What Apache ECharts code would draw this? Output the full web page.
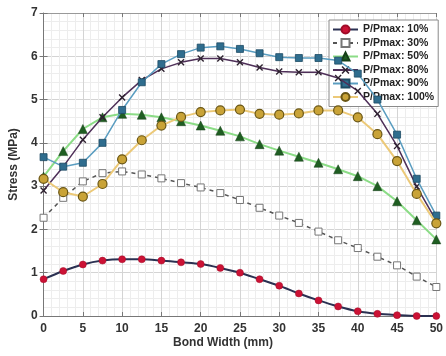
<!DOCTYPE html>
<html>
<head>
<meta charset="utf-8">
<script src="https://cdn.jsdelivr.net/npm/echarts@6/dist/echarts.min.js"></script>
<style>
  html, body { margin: 0; padding: 0; background: #fff; }
  #chart { width: 446px; height: 356px; }
</style>
</head>
<body>
<div id="chart"></div>
<script>
// Bond width positions (mm)
const bondWidth = [0, 2.5, 5, 7.5, 10, 12.5, 15, 17.5, 20, 22.5, 25, 27.5, 30, 32.5, 35, 37.5, 40, 42.5, 45, 47.5, 50];

// Stress (MPa) at each load level
const load10  = [0.85, 1.04, 1.19, 1.28, 1.31, 1.31, 1.28, 1.24, 1.20, 1.11, 1.00, 0.85, 0.70, 0.52, 0.36, 0.22, 0.11, 0.05, 0.02, 0.00, 0.00];
const load30  = [2.27, 2.73, 3.11, 3.30, 3.34, 3.27, 3.18, 3.07, 2.97, 2.84, 2.68, 2.50, 2.32, 2.15, 1.95, 1.75, 1.57, 1.37, 1.17, 0.91, 0.67];
const load50  = [3.22, 3.81, 4.32, 4.59, 4.67, 4.65, 4.59, 4.50, 4.40, 4.28, 4.15, 3.97, 3.82, 3.68, 3.54, 3.39, 3.23, 3.00, 2.65, 2.21, 1.77];
const load80  = [2.90, 3.45, 4.07, 4.59, 5.05, 5.45, 5.71, 5.86, 5.95, 5.95, 5.86, 5.74, 5.65, 5.63, 5.63, 5.50, 5.20, 4.67, 3.93, 2.99, 2.20];
const load90  = [3.67, 3.45, 3.54, 4.00, 4.76, 5.40, 5.82, 6.05, 6.20, 6.23, 6.17, 6.07, 5.98, 5.96, 5.96, 5.90, 5.60, 5.00, 4.19, 3.17, 2.32];
const load100 = [3.17, 2.86, 2.76, 3.05, 3.62, 4.06, 4.40, 4.60, 4.71, 4.75, 4.77, 4.67, 4.65, 4.68, 4.75, 4.75, 4.59, 4.20, 3.58, 2.82, 2.14];

const seriesNames = ['P/Pmax: 10%', 'P/Pmax: 30%', 'P/Pmax: 50%', 'P/Pmax: 80%', 'P/Pmax: 90%', 'P/Pmax: 100%'];

const pairs = vals => bondWidth.map((x, i) => [x, vals[i]]);

// filled "x" marker outline
const crossPath = 'path://M1.4,0 L5,3.6 L8.6,0 L10,1.4 L6.4,5 L10,8.6 L8.6,10 L5,6.4 L1.4,10 L0,8.6 L3.6,5 L0,1.4 Z';

const font = 'Liberation Sans, Arial, sans-serif';
const chart = echarts.init(document.getElementById('chart'), null, { renderer: 'canvas' });

const gridLine = { show: true, lineStyle: { color: '#d4d4d4', width: 1 } };
const minorLine = { show: true, lineStyle: { color: '#ededed', width: 1 } };
const minorTick = { show: true, splitNumber: 5, length: 0 };

chart.setOption({
  animation: false,
  backgroundColor: '#ffffff',
  grid: { left: 37, right: 0, top: 13, bottom: 40, containLabel: false },
  xAxis: [
    {
      type: 'value', min: 0, max: 50, interval: 5,
      axisLine: { show: true, onZero: false, lineStyle: { color: '#777', width: 1 } },
      axisTick: { show: true, inside: true, length: 4, lineStyle: { color: '#777' } },
      axisLabel: { color: '#333', fontSize: 12, fontWeight: 'bold', fontFamily: font, margin: 7 },
      splitLine: gridLine,
      minorTick: minorTick,
      minorSplitLine: minorLine
    },
    {
      type: 'value', min: 0, max: 50, interval: 5, position: 'top',
      axisLine: { show: true, onZero: false, lineStyle: { color: '#999', width: 1 } },
      axisTick: { show: true, inside: true, length: 4, lineStyle: { color: '#777' } },
      axisLabel: { show: false },
      splitLine: { show: false }
    }
  ],
  yAxis: [
    {
      type: 'value', min: 0, max: 7, interval: 1,
      name: 'Stress (MPa)', nameLocation: 'middle', nameGap: 19,
      nameTextStyle: { color: '#333', fontSize: 12, fontWeight: 'bold', fontFamily: font },
      axisLine: { show: true, onZero: false, lineStyle: { color: '#777', width: 1 } },
      axisTick: { show: true, inside: true, length: 4, lineStyle: { color: '#777' } },
      axisLabel: { color: '#333', fontSize: 12, fontWeight: 'bold', fontFamily: font, margin: 6 },
      splitLine: gridLine,
      minorTick: minorTick,
      minorSplitLine: minorLine
    },
    {
      type: 'value', min: 0, max: 7, interval: 1, position: 'right',
      axisLine: { show: false },
      axisTick: { show: true, inside: true, length: 4, lineStyle: { color: '#777' } },
      axisLabel: { show: false },
      splitLine: { show: false }
    }
  ],
  legend: {
    orient: 'vertical', left: 329, top: 20,
    data: seriesNames,
    backgroundColor: '#ffffff', borderColor: '#8a8a8a', borderWidth: 1, borderRadius: 0,
    padding: [4, 4, 4, 3],
    itemWidth: 25, itemHeight: 10, itemGap: 2.5,
    textStyle: { color: '#222', fontSize: 10.5, fontWeight: 'bold', fontFamily: font, lineHeight: 10 }
  },
  graphic: [
    {
      type: 'text', left: 'center', top: 337,
      style: { text: 'Bond Width (mm)', fill: '#333', font: 'bold 12px ' + font, x: 19 }
    }
  ],
  series: [
    {
      name: seriesNames[0], type: 'line', data: pairs(load10),
      symbol: 'circle', symbolSize: 7, smooth: 0.3,
      lineStyle: { color: '#2b3152', width: 2 },
      itemStyle: { color: '#cc1235', borderColor: '#a00c28', borderWidth: 0.5 },
      z: 2
    },
    {
      name: seriesNames[1], type: 'line', data: pairs(load30),
      symbol: 'rect', symbolSize: 7,
      lineStyle: { color: '#555', width: 1.5, type: [4, 4] },
      itemStyle: { color: '#ffffff', borderColor: '#777', borderWidth: 1 },
      z: 3
    },
    {
      name: seriesNames[2], type: 'line', data: pairs(load50),
      symbol: 'triangle', symbolSize: 9,
      lineStyle: { color: '#8bdc86', width: 2 },
      itemStyle: { color: '#1f5e22', borderColor: '#163f18', borderWidth: 0.5 },
      z: 4
    },
    {
      name: seriesNames[3], type: 'line', data: pairs(load80),
      symbol: crossPath, symbolSize: 7,
      lineStyle: { color: '#4e2f58', width: 1.5 },
      itemStyle: { color: '#2e2230' },
      z: 5
    },
    {
      name: seriesNames[4], type: 'line', data: pairs(load90),
      symbol: 'rect', symbolSize: 7,
      lineStyle: { color: '#5a9dc0', width: 1.5 },
      itemStyle: { color: '#2f6d8e', borderColor: '#1d4a63', borderWidth: 0.8 },
      z: 6
    },
    {
      name: seriesNames[5], type: 'line', data: pairs(load100),
      symbol: 'circle', symbolSize: 9,
      lineStyle: { color: '#ecc978', width: 2 },
      itemStyle: { color: '#c9a337', borderColor: '#6a5614', borderWidth: 1.2 },
      z: 7
    }
  ]
});
</script>
</body>
</html>
